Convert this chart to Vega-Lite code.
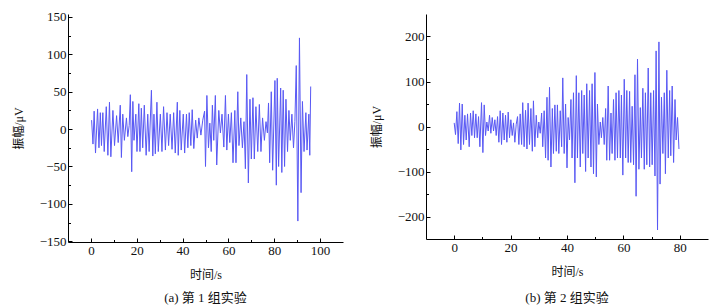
{
 "$schema": "https://vega.github.io/schema/vega-lite/v6.json",
 "padding": {"left": 12, "top": 10, "right": 5, "bottom": 4},
 "background": "white",
 "spacing": 27,
 "config": {
  "view": {"stroke": null},
  "font": "Liberation Serif, Noto Sans CJK SC",
  "axis": {"grid": false, "domainColor": "#000", "tickColor": "#000", "labelColor": "#111", "titleColor": "#111", "labelFont": "Liberation Serif", "labelFontSize": 13, "titleFont": "Liberation Serif, Noto Sans CJK SC", "titleFontSize": 12, "titleFontWeight": "normal", "domainWidth": 1, "tickWidth": 1},
  "title": {"font": "Liberation Serif, Noto Sans CJK SC", "fontSize": 13, "fontWeight": "normal", "color": "#111"}
 },
 "datasets": {
  "a": [
   {"t":0.3,"v":12},{"t":0.9,"v":-20},{"t":1.4,"v":24},{"t":2.0,"v":-32},{"t":2.9,"v":27},{"t":3.5,"v":-25},{"t":4.1,"v":22},{"t":4.6,"v":-22},{"t":5.2,"v":22},{"t":5.8,"v":-30},{"t":6.7,"v":30},{"t":7.4,"v":-35},{"t":8.1,"v":36},{"t":8.7,"v":-37},{"t":9.6,"v":25},{"t":10.3,"v":-22},{"t":11.2,"v":18},{"t":11.9,"v":-18},{"t":12.8,"v":32},{"t":13.3,"v":-38},{"t":13.9,"v":20},{"t":14.6,"v":-15},{"t":15.5,"v":15},{"t":16.1,"v":-10},{"t":16.7,"v":5},{"t":17.2,"v":46},{"t":17.8,"v":-57},{"t":18.3,"v":37},{"t":18.8,"v":-15},{"t":19.6,"v":20},{"t":20.1,"v":-30},{"t":20.9,"v":34},{"t":21.4,"v":-30},{"t":22.0,"v":28},{"t":22.6,"v":-25},{"t":23.3,"v":32},{"t":24.1,"v":-35},{"t":24.8,"v":20},{"t":25.4,"v":-30},{"t":26.4,"v":52},{"t":27.0,"v":-36},{"t":27.5,"v":20},{"t":28.1,"v":-33},{"t":28.8,"v":36},{"t":29.4,"v":-30},{"t":30.3,"v":20},{"t":31.0,"v":-30},{"t":31.7,"v":30},{"t":32.5,"v":-28},{"t":33.2,"v":22},{"t":33.9,"v":-22},{"t":34.6,"v":20},{"t":35.4,"v":-27},{"t":36.1,"v":22},{"t":36.8,"v":-32},{"t":37.7,"v":36},{"t":38.1,"v":-35},{"t":38.8,"v":25},{"t":39.4,"v":-28},{"t":40.3,"v":20},{"t":40.9,"v":-32},{"t":41.7,"v":20},{"t":42.3,"v":-25},{"t":42.9,"v":22},{"t":43.6,"v":-22},{"t":44.2,"v":26},{"t":44.9,"v":-26},{"t":45.7,"v":12},{"t":46.4,"v":-12},{"t":47.1,"v":15},{"t":48.0,"v":-8},{"t":48.8,"v":12},{"t":49.6,"v":24},{"t":50.0,"v":-50},{"t":50.6,"v":45},{"t":51.3,"v":-25},{"t":51.9,"v":8},{"t":52.5,"v":-30},{"t":53.0,"v":32},{"t":53.6,"v":-15},{"t":54.3,"v":45},{"t":54.9,"v":-48},{"t":55.8,"v":25},{"t":56.5,"v":-5},{"t":57.2,"v":20},{"t":58.0,"v":-24},{"t":58.7,"v":45},{"t":59.3,"v":-28},{"t":60.0,"v":20},{"t":60.6,"v":-18},{"t":61.3,"v":22},{"t":62.0,"v":-45},{"t":62.8,"v":25},{"t":63.3,"v":-45},{"t":64.1,"v":50},{"t":64.6,"v":-22},{"t":65.4,"v":15},{"t":66.1,"v":-25},{"t":66.8,"v":10},{"t":67.4,"v":-53},{"t":68.0,"v":73},{"t":68.7,"v":-72},{"t":69.4,"v":40},{"t":70.0,"v":-40},{"t":70.7,"v":42},{"t":71.3,"v":-40},{"t":72.0,"v":30},{"t":72.8,"v":-30},{"t":73.5,"v":33},{"t":74.2,"v":-30},{"t":74.9,"v":15},{"t":75.7,"v":-15},{"t":76.4,"v":10},{"t":77.0,"v":-5},{"t":77.5,"v":35},{"t":78.0,"v":-45},{"t":78.7,"v":50},{"t":79.3,"v":-55},{"t":80.3,"v":65},{"t":80.9,"v":-75},{"t":81.3,"v":68},{"t":81.9,"v":-50},{"t":82.8,"v":55},{"t":83.3,"v":-58},{"t":83.9,"v":52},{"t":84.5,"v":-50},{"t":85.1,"v":40},{"t":85.8,"v":-30},{"t":86.4,"v":25},{"t":87.0,"v":-15},{"t":87.7,"v":20},{"t":88.4,"v":-25},{"t":89.0,"v":10},{"t":89.6,"v":85},{"t":90.3,"v":-123},{"t":91.0,"v":122},{"t":91.7,"v":-85},{"t":92.3,"v":37},{"t":93.0,"v":-30},{"t":93.8,"v":22},{"t":94.3,"v":-28},{"t":95.1,"v":20},{"t":95.5,"v":-35},{"t":95.9,"v":57}
  ],
  "b": [
   {"t":0,"v":8},{"t":0.47,"v":-18},{"t":0.95,"v":33},{"t":1.42,"v":-38},{"t":1.89,"v":52},{"t":2.36,"v":-52},{"t":2.84,"v":50},{"t":3.31,"v":-40},{"t":3.78,"v":25},{"t":4.26,"v":-30},{"t":4.73,"v":28},{"t":5.32,"v":-45},{"t":5.79,"v":30},{"t":6.26,"v":-20},{"t":6.74,"v":35},{"t":7.21,"v":-25},{"t":7.68,"v":28},{"t":8.16,"v":-25},{"t":8.63,"v":22},{"t":9.10,"v":-45},{"t":9.69,"v":53},{"t":10.17,"v":-58},{"t":10.64,"v":48},{"t":11.11,"v":-20},{"t":11.58,"v":10},{"t":12.06,"v":-10},{"t":12.53,"v":25},{"t":13.0,"v":-15},{"t":13.48,"v":20},{"t":13.95,"v":-10},{"t":14.42,"v":15},{"t":14.89,"v":-20},{"t":15.37,"v":22},{"t":15.84,"v":-35},{"t":16.31,"v":35},{"t":16.78,"v":-40},{"t":17.26,"v":30},{"t":17.73,"v":-30},{"t":18.2,"v":25},{"t":18.68,"v":-35},{"t":19.15,"v":32},{"t":19.62,"v":-25},{"t":20.09,"v":15},{"t":20.57,"v":-20},{"t":21.04,"v":8},{"t":21.51,"v":-35},{"t":21.99,"v":5},{"t":22.46,"v":22},{"t":22.93,"v":-40},{"t":23.4,"v":28},{"t":23.9,"v":-40},{"t":24.3,"v":53},{"t":24.8,"v":-45},{"t":25.3,"v":36},{"t":25.8,"v":-50},{"t":26.2,"v":52},{"t":26.7,"v":-40},{"t":27.2,"v":40},{"t":27.7,"v":-55},{"t":28.1,"v":57},{"t":28.6,"v":-45},{"t":29.1,"v":25},{"t":29.6,"v":-25},{"t":30.0,"v":10},{"t":30.5,"v":-15},
   {"t":31.0,"v":30},{"t":31.4,"v":-45},{"t":31.9,"v":35},{"t":32.4,"v":-70},{"t":32.9,"v":65},{"t":33.3,"v":-75},{"t":33.8,"v":87},{"t":34.3,"v":-90},{"t":34.8,"v":40},{"t":35.2,"v":-60},{"t":35.7,"v":48},{"t":36.2,"v":-55},{"t":36.6,"v":48},{"t":37.1,"v":-60},{"t":37.6,"v":35},{"t":38.1,"v":-45},{"t":38.5,"v":108},{"t":39.0,"v":-60},{"t":39.5,"v":50},{"t":40.0,"v":-92},{"t":40.4,"v":20},{"t":40.9,"v":-30},{"t":41.4,"v":60},{"t":41.8,"v":-70},{"t":42.3,"v":75},{"t":42.8,"v":-125},{"t":43.3,"v":113},{"t":43.7,"v":-70},{"t":44.2,"v":75},{"t":44.7,"v":-90},{"t":45.2,"v":80},{"t":45.6,"v":-60},{"t":46.1,"v":70},{"t":46.6,"v":-100},{"t":47.0,"v":95},{"t":47.5,"v":-70},{"t":48.0,"v":80},{"t":48.5,"v":-90},{"t":48.9,"v":95},{"t":49.4,"v":-105},{"t":49.9,"v":120},{"t":50.4,"v":-112},{"t":50.8,"v":50},{"t":51.3,"v":-40},{"t":51.8,"v":10},{"t":52.2,"v":-25},{"t":52.7,"v":20},{"t":53.2,"v":-40},{"t":53.7,"v":40},{"t":54.1,"v":-75},{"t":54.6,"v":90},{"t":55.1,"v":-75},{"t":55.6,"v":30},{"t":56.0,"v":-60},{"t":56.5,"v":60},{"t":57.0,"v":-75},{"t":57.4,"v":75},{"t":57.9,"v":-70},{"t":58.4,"v":80},{"t":58.9,"v":-70},{"t":59.3,"v":70},{"t":59.8,"v":-108},{"t":60.3,"v":105},{"t":60.8,"v":-70},{"t":61.2,"v":80},{"t":61.7,"v":-80},{"t":62.2,"v":78},{"t":62.6,"v":-80},{"t":63.1,"v":45},{"t":63.6,"v":-85},{"t":64.1,"v":115},{"t":64.5,"v":-155},{"t":65.0,"v":150},{"t":65.5,"v":-95},{"t":66.0,"v":42},{"t":66.4,"v":-70},{"t":66.9,"v":85},{"t":67.4,"v":-95},{"t":67.8,"v":75},{"t":68.3,"v":-85},{"t":68.8,"v":130},{"t":69.3,"v":-90},{"t":69.7,"v":75},{"t":70.2,"v":-85},{"t":70.7,"v":80},{"t":71.2,"v":-110},{"t":71.6,"v":168},{"t":72.1,"v":-230},{"t":72.6,"v":188},{"t":73.0,"v":-128},{"t":73.5,"v":65},{"t":74.0,"v":-60},{"t":74.5,"v":75},{"t":74.9,"v":-105},{"t":75.4,"v":125},{"t":75.9,"v":-70},{"t":76.4,"v":80},{"t":76.8,"v":-65},{"t":77.3,"v":90},{"t":77.8,"v":-80},{"t":78.3,"v":60},{"t":78.7,"v":-30},{"t":79.2,"v":20},{"t":79.7,"v":-50}
  ]
 },
 "hconcat": [
  {
   "width": 275, "height": 228,
   "data": {"name": "a"},
   "title": {"text": "(a) 第 1 组实验", "orient": "bottom", "offset": 12},
   "layer": [
    {
     "mark": {"type": "line", "color": "#5858f4", "strokeWidth": 1},
     "encoding": {
      "x": {"field": "t", "type": "quantitative", "scale": {"domain": [-10, 110], "nice": false, "zero": false}, "axis": {"values": [0, 20, 40, 60, 80, 100], "title": "时间/s", "tickSize": -4, "labelPadding": 6, "titlePadding": 12}},
      "y": {"field": "v", "type": "quantitative", "scale": {"domain": [-151, 154], "nice": false, "zero": false}, "axis": {"values": [-150, -100, -50, 0, 50, 100, 150], "title": "振幅/μV", "tickSize": -4, "labelPadding": 6, "titlePadding": 14}}
     }
    },
    {
     "mark": {"type": "line", "opacity": 0},
     "encoding": {
      "x": {"field": "t", "type": "quantitative", "axis": {"orient": "bottom", "values": [10, 30, 50, 70, 90], "labels": false, "domain": false, "title": null, "tickSize": -2.5}},
      "y": {"field": "v", "type": "quantitative", "axis": {"orient": "left", "values": [-125, -75, -25, 25, 75, 125], "labels": false, "domain": false, "title": null, "tickSize": -2.5}}
     }
    }
   ],
   "resolve": {"axis": {"x": "independent", "y": "independent"}}
  },
  {
   "width": 282, "height": 225,
   "data": {"name": "b"},
   "title": {"text": "(b) 第 2 组实验", "orient": "bottom", "offset": 15},
   "layer": [
    {
     "mark": {"type": "line", "color": "#5858f4", "strokeWidth": 1},
     "encoding": {
      "x": {"field": "t", "type": "quantitative", "scale": {"domain": [-10, 90], "nice": false, "zero": false}, "axis": {"values": [0, 20, 40, 60, 80], "title": "时间/s", "tickSize": -4, "labelPadding": 6, "titlePadding": 12}},
      "y": {"field": "v", "type": "quantitative", "scale": {"domain": [-250, 250], "nice": false, "zero": false}, "axis": {"values": [-200, -100, 0, 100, 200], "title": "振幅/μV", "tickSize": -4, "labelPadding": 6, "titlePadding": 14}}
     }
    },
    {
     "mark": {"type": "line", "opacity": 0},
     "encoding": {
      "x": {"field": "t", "type": "quantitative", "axis": {"orient": "bottom", "values": [10, 30, 50, 70], "labels": false, "domain": false, "title": null, "tickSize": -2.5}},
      "y": {"field": "v", "type": "quantitative", "axis": {"orient": "left", "values": [-150, -50, 50, 150], "labels": false, "domain": false, "title": null, "tickSize": -2.5}}
     }
    }
   ],
   "resolve": {"axis": {"x": "independent", "y": "independent"}}
  }
 ]
}
